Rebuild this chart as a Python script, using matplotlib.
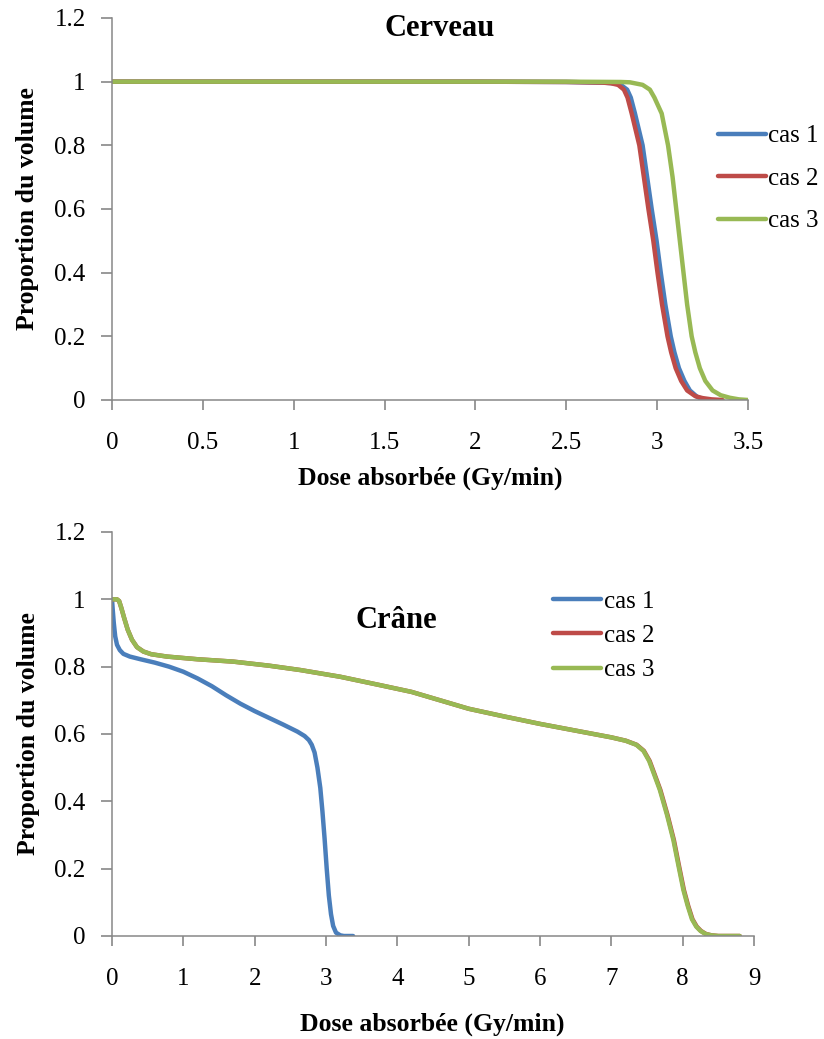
import matplotlib
matplotlib.use("Agg")
import matplotlib.pyplot as plt

# ---- Data: top chart (Cerveau) ----
top_x1 = [0, 1, 2, 2.5, 2.7, 2.76, 2.8, 2.835, 2.855, 2.878, 2.92, 2.945, 2.97, 2.997, 3.02, 3.045, 3.075, 3.095, 3.12, 3.15, 3.18, 3.22, 3.26]
top_y1 = [1, 1, 1, 0.999, 0.997, 0.995, 0.99, 0.975, 0.95, 0.9, 0.8, 0.7, 0.6, 0.5, 0.4, 0.3, 0.2, 0.15, 0.1, 0.06, 0.03, 0.01, 0]
top_x2 = [0, 1, 2, 2.5, 2.7, 2.745, 2.785, 2.817, 2.837, 2.86, 2.902, 2.927, 2.952, 2.979, 3.002, 3.027, 3.057, 3.077, 3.102, 3.132, 3.165, 3.21, 3.25, 3.3, 3.36]
top_y2 = [1, 1, 1, 0.999, 0.997, 0.995, 0.99, 0.975, 0.95, 0.9, 0.8, 0.7, 0.6, 0.5, 0.4, 0.3, 0.2, 0.15, 0.1, 0.06, 0.03, 0.012, 0.006, 0.002, 0]
top_x3 = [0, 1, 2, 2.5, 2.8, 2.85, 2.92, 2.96, 2.985, 3.025, 3.06, 3.085, 3.105, 3.125, 3.145, 3.165, 3.19, 3.21, 3.235, 3.265, 3.305, 3.35, 3.4, 3.45, 3.5]
top_y3 = [1, 1, 1, 1, 0.999, 0.998, 0.99, 0.975, 0.95, 0.9, 0.8, 0.7, 0.6, 0.5, 0.4, 0.3, 0.2, 0.15, 0.1, 0.06, 0.03, 0.015, 0.007, 0.002, 0]

# ---- Data: bottom chart (Crâne) ----
bot_x1 = [0, 0.01, 0.025, 0.045, 0.07, 0.11, 0.16, 0.25, 0.4, 0.6, 0.8, 1.0, 1.2, 1.4, 1.6, 1.8, 2.0, 2.2, 2.4, 2.6, 2.7, 2.76, 2.8, 2.84, 2.88, 2.92, 2.95, 2.98, 3.01, 3.04, 3.07, 3.1, 3.14, 3.2, 3.25, 3.38]
bot_y1 = [1, 0.97, 0.93, 0.89, 0.865, 0.849, 0.838, 0.83, 0.822, 0.812, 0.8, 0.785, 0.765, 0.742, 0.715, 0.69, 0.668, 0.648, 0.628, 0.607, 0.594, 0.582, 0.568, 0.545, 0.5, 0.44, 0.37, 0.29, 0.2, 0.12, 0.065, 0.03, 0.01, 0.002, 0, 0]
bot_x2 = [0, 0.07, 0.1, 0.13, 0.17, 0.22, 0.28, 0.35, 0.44, 0.55, 0.77, 1.2, 1.7, 2.2, 2.64, 3.2, 3.76, 4.2, 4.6, 5, 5.5, 6, 6.5, 7, 7.205, 7.355, 7.456, 7.537, 7.607, 7.687, 7.787, 7.877, 7.947, 8.017, 8.077, 8.137, 8.197, 8.257, 8.327, 8.405, 8.5, 8.8]
bot_y2 = [1, 1.0, 0.995, 0.975, 0.945, 0.91, 0.88, 0.858, 0.845, 0.837, 0.83, 0.822, 0.815, 0.803, 0.79, 0.77, 0.745, 0.725, 0.7, 0.675, 0.652, 0.63, 0.61, 0.59, 0.58, 0.568, 0.55, 0.52, 0.48, 0.434, 0.36, 0.285, 0.21, 0.137, 0.09, 0.05, 0.028, 0.015, 0.006, 0.002, 0, 0]
bot_x3 = [0, 0.07, 0.1, 0.13, 0.17, 0.22, 0.28, 0.35, 0.44, 0.55, 0.77, 1.2, 1.7, 2.2, 2.64, 3.2, 3.76, 4.2, 4.6, 5, 5.5, 6, 6.5, 7, 7.2, 7.35, 7.45, 7.53, 7.6, 7.68, 7.78, 7.87, 7.94, 8.01, 8.07, 8.13, 8.19, 8.25, 8.32, 8.4, 8.5, 8.8]
bot_y3 = [1, 1.0, 0.995, 0.975, 0.945, 0.91, 0.88, 0.858, 0.845, 0.837, 0.83, 0.822, 0.815, 0.803, 0.79, 0.77, 0.745, 0.725, 0.7, 0.675, 0.652, 0.63, 0.61, 0.59, 0.58, 0.568, 0.55, 0.52, 0.48, 0.434, 0.36, 0.285, 0.21, 0.137, 0.09, 0.05, 0.028, 0.015, 0.006, 0.002, 0, 0]

series_labels = ["cas 1", "cas 2", "cas 3"]
top_xticks = [0, 0.5, 1, 1.5, 2, 2.5, 3, 3.5]
top_xticklabels = ["0", "0.5", "1", "1.5", "2", "2.5", "3", "3.5"]
bot_xticks = [0, 1, 2, 3, 4, 5, 6, 7, 8, 9]
bot_xticklabels = ["0", "1", "2", "3", "4", "5", "6", "7", "8", "9"]
yticks = [0, 0.2, 0.4, 0.6, 0.8, 1, 1.2]
yticklabels = ["0", "0.2", "0.4", "0.6", "0.8", "1", "1.2"]
titles = ["Cerveau", "Crâne"]
xlabel = "Dose absorbée (Gy/min)"
ylabel = "Proportion du volume"

colors = ["#4a7ebb", "#be4b48", "#98b954"]

plt.rcParams['font.family'] = ['Liberation Serif', 'DejaVu Serif']

W, H = 824, 1039
fig = plt.figure(figsize=(W / 100, H / 100), dpi=100)
ax1 = fig.add_axes([112 / W, 1 - 400 / H, (748 - 112) / W, (400 - 18) / H])
ax2 = fig.add_axes([112 / W, 1 - 936 / H, (754 - 112) / W, (936 - 532) / H])

lw = 3.2
for ax, data, xt, xtl, xmax in [
    (ax1, [(top_x1, top_y1), (top_x2, top_y2), (top_x3, top_y3)], top_xticks, top_xticklabels, 3.5),
    (ax2, [(bot_x1, bot_y1), (bot_x2, bot_y2), (bot_x3, bot_y3)], bot_xticks, bot_xticklabels, 9),
]:
    for (x, y), c, lab in zip(data, colors, series_labels):
        ax.plot(x, y, color=c, lw=lw, label=lab, solid_capstyle='round', solid_joinstyle='round')
    ax.set_xlim(0, xmax)
    ax.set_ylim(0, 1.2)
    ax.set_xticks(xt)
    ax.set_xticklabels(xtl)
    ax.set_yticks(yticks)
    ax.set_yticklabels(yticklabels)
    for s in ['top', 'right']:
        ax.spines[s].set_visible(False)
    for s in ['left', 'bottom']:
        ax.spines[s].set_color('#888888')
        ax.spines[s].set_linewidth(1.1)
    ax.tick_params(axis='both', which='major', direction='out', width=1.2, color='#888888',
                   labelsize=18)
    ax.tick_params(axis='x', length=7, pad=16)
    ax.tick_params(axis='y', length=8, pad=11)
    ax.set_xlabel(xlabel, fontsize=18.5, fontweight='bold')
    ax.set_ylabel(ylabel, fontsize=18.5, fontweight='bold')

for ax in (ax1, ax2):
    ax.xaxis.label.set_va('center')
    ax.yaxis.label.set_va('center')

ax1.xaxis.set_label_coords((430 - 112) / 636, -(478 - 400) / 382)
ax1.yaxis.set_label_coords(-(112 - 28) / 636, 0.5)
ax2.xaxis.set_label_coords((432 - 112) / 642, -(1024 - 936) / 404)
ax2.yaxis.set_label_coords(-(112 - 28) / 642, 0.5)

ax1.text((440 - 112) / 636, (400 - 29) / 382, titles[0], transform=ax1.transAxes,
         ha='center', va='center', fontsize=22, fontweight='bold')
ax2.text((396 - 112) / 642, (936 - 621) / 404, titles[1], transform=ax2.transAxes,
         ha='center', va='center', fontsize=22, fontweight='bold')

leg1 = ax1.legend(loc='upper left', bbox_to_anchor=((718 - 112) / 636, (400 - 125) / 382),
                  frameon=False, fontsize=18, handlelength=1.9, handletextpad=0.12,
                  labelspacing=0.8, borderaxespad=0, borderpad=0)
leg2 = ax2.legend(loc='upper left', bbox_to_anchor=((553 - 112) / 642, (936 - 590) / 404),
                  frameon=False, fontsize=18, handlelength=1.9, handletextpad=0.12,
                  labelspacing=0.48, borderaxespad=0, borderpad=0)

fig.savefig("out.png", dpi=100)
